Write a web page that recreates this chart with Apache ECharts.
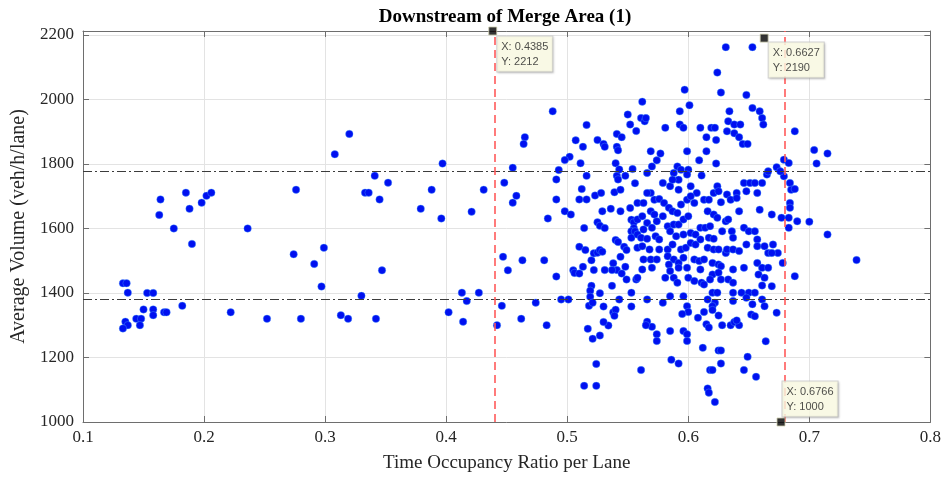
<!DOCTYPE html>
<html>
<head>
<meta charset="utf-8">
<script src="https://cdn.jsdelivr.net/npm/echarts@6/dist/echarts.min.js"></script>
<style>
  html, body { margin: 0; padding: 0; background: #fff; }
  #chart { width: 944px; height: 478px; }
</style>
</head>
<body>
<div id="chart"></div>
<script>
// Tick positions
const xTicks = [0.1, 0.2, 0.3, 0.4, 0.5, 0.6, 0.7, 0.8];
const yTicks = [1000, 1200, 1400, 1600, 1800, 2000, 2200];
const yMax = 2212;

// Volume band limits (dash-dot) and occupancy limits (red dashed)
const volumeBands = [1380, 1777];
const occupancyLimits = [0.4385, 0.6766];

// Data tips: [occupancy, volume]
const tips = [[0.4385, 2212], [0.6627, 2190], [0.6766, 1000]];

// Observations: [time occupancy ratio, average volume]
const lowOccupancy = [
  [0.133,1430],[0.136,1430],[0.137,1401],[0.153,1400],[0.158,1400],[0.150,1349],[0.158,1349],[0.158,1331],
  [0.144,1320],[0.148,1320],[0.135,1311],[0.137,1300],[0.133,1290],[0.147,1300],[0.167,1340],[0.169,1340],
  [0.182,1360],[0.222,1340],[0.252,1320],[0.280,1320],
  [0.164,1690],[0.163,1642],[0.185,1711],[0.188,1661],[0.175,1600],[0.190,1552],[0.198,1680],[0.202,1701],
  [0.206,1711],[0.236,1600],[0.276,1720],[0.274,1520],[0.291,1490],[0.297,1420],[0.299,1540],
  [0.320,1893],[0.308,1830],[0.341,1763],[0.333,1711],[0.336,1711],[0.352,1742],[0.345,1690],[0.397,1801],
  [0.388,1720],[0.379,1661],[0.396,1631],[0.421,1652],[0.431,1720],
  [0.347,1470],[0.330,1391],[0.313,1331],[0.319,1320],[0.342,1320],[0.413,1401],[0.427,1401],[0.402,1340],
  [0.417,1375],[0.414,1311],[0.442,1300]
];

const midOccupancy = [
  [0.455,1788],[0.448,1742],[0.458,1701],[0.455,1680],[0.447,1512],[0.451,1470],[0.446,1360],
  [0.465,1883],[0.464,1862],[0.488,1963],[0.516,1921],[0.507,1873],[0.513,1853],[0.525,1874],[0.530,1862],
  [0.531,1853],[0.541,1893],[0.545,1883],[0.541,1853],[0.542,1842],[0.550,1953],[0.552,1922],[0.557,1902],
  [0.562,1993],[0.561,1942],[0.564,1932],
  [0.502,1822],[0.498,1812],[0.511,1802],[0.493,1781],[0.491,1752],[0.491,1690],[0.484,1631],[0.498,1653],
  [0.503,1643],[0.516,1763],[0.512,1722],[0.510,1690],[0.516,1690],[0.523,1702],[0.528,1710],[0.529,1653],
  [0.536,1661],[0.540,1802],[0.541,1763],[0.542,1752],[0.543,1783],[0.539,1712],[0.544,1720],[0.544,1653],
  [0.548,1763],[0.554,1784],[0.556,1740],[0.552,1663],[0.525,1619],[0.527,1608],[0.514,1601],[0.531,1601],
  [0.553,1627],[0.555,1619],[0.555,1601],[0.553,1591],[0.556,1591],[0.553,1571],
  [0.510,1543],[0.515,1533],[0.520,1501],[0.522,1523],[0.525,1525],[0.527,1533],[0.529,1528],
  [0.540,1564],[0.542,1558],[0.547,1543],[0.549,1533],[0.544,1512],[0.538,1492],[0.541,1471],[0.548,1481],
  [0.545,1460],[0.549,1442],[0.557,1442],[0.537,1471],
  [0.505,1470],[0.506,1462],[0.510,1460],[0.513,1481],[0.522,1471],[0.531,1471],
  [0.491,1451],[0.463,1501],[0.481,1501],
  [0.520,1422],[0.519,1407],[0.519,1388],[0.518,1360],[0.521,1370],[0.527,1399],[0.537,1422],[0.543,1380],
  [0.553,1401],[0.495,1380],[0.501,1380],[0.474,1370],[0.462,1320],[0.483,1300],
  [0.530,1358],[0.538,1340],[0.540,1348],[0.539,1329],[0.534,1299],[0.530,1310],[0.527,1268],[0.521,1258],
  [0.517,1289],[0.553,1358],[0.524,1180],[0.514,1112],[0.524,1112]
];

const highVolume = [
  [0.631,2162],[0.653,2162],[0.624,2083],[0.597,2030],[0.627,2021],[0.648,2014],[0.601,1982],[0.593,1963],
  [0.634,1963],[0.653,1973],[0.659,1963],[0.661,1942],[0.662,1922],[0.593,1922],[0.596,1912],[0.581,1912],
  [0.610,1912],[0.619,1912],[0.622,1912],[0.633,1932],[0.638,1922],[0.643,1922],[0.632,1901],[0.638,1895],
  [0.642,1883],[0.615,1883],[0.623,1874],[0.645,1862],[0.649,1862],[0.688,1901],[0.704,1843],[0.715,1832],
  [0.706,1801],[0.565,1942],[0.679,1762],[0.700,1621],[0.715,1581],[0.739,1502]
];

const coreCluster = [
  [0.569,1839],[0.577,1832],[0.599,1839],[0.615,1839],[0.609,1811],[0.623,1801],[0.570,1792],[0.574,1811],
  [0.591,1792],[0.594,1782],[0.600,1782],[0.679,1813],[0.683,1803],[0.673,1790],
  [0.566,1772],[0.588,1772],[0.592,1751],[0.599,1767],[0.611,1764],[0.624,1731],[0.579,1741],[0.585,1731],
  [0.587,1751],[0.592,1720],[0.602,1731],[0.607,1710],[0.569,1710],[0.566,1710],[0.646,1741],[0.651,1741],
  [0.655,1741],[0.661,1741],[0.665,1767],[0.666,1777],[0.657,1710],[0.640,1710],[0.632,1705],[0.648,1715],
  [0.676,1777],[0.684,1741],[0.685,1720],[0.688,1722],
  [0.558,1679],[0.563,1679],[0.572,1689],[0.576,1691],[0.580,1679],[0.584,1664],[0.587,1653],[0.591,1648],
  [0.594,1674],[0.599,1689],[0.602,1700],[0.605,1679],[0.613,1689],[0.617,1689],[0.621,1710],[0.625,1715],
  [0.616,1653],[0.621,1643],[0.624,1633],[0.635,1689],[0.640,1694],[0.642,1653],[0.627,1681],[0.631,1622],
  [0.633,1628],[0.659,1658],[0.669,1643],[0.684,1679],[0.684,1664],[0.677,1633],[0.683,1633],[0.690,1622],
  [0.558,1628],[0.562,1638],[0.569,1653],[0.572,1643],[0.566,1617],[0.570,1602],[0.574,1622],[0.579,1638],
  [0.583,1607],[0.588,1612],[0.592,1612],[0.596,1628],[0.600,1638],[0.585,1591],[0.563,1597],[0.558,1581],
  [0.573,1576],[0.561,1571],[0.566,1568],[0.576,1566],[0.590,1576],[0.596,1581],[0.602,1586],[0.606,1581],
  [0.610,1602],[0.614,1602],[0.618,1607],[0.617,1571],[0.621,1568],[0.628,1591],[0.636,1591],[0.637,1571],
  [0.646,1602],[0.650,1591],[0.655,1591],[0.657,1566],[0.683,1602],
  [0.558,1540],[0.562,1545],[0.568,1535],[0.576,1535],[0.583,1535],[0.587,1550],[0.594,1535],[0.598,1540],
  [0.602,1555],[0.606,1550],[0.610,1566],[0.616,1540],[0.621,1535],[0.625,1535],[0.631,1524],[0.632,1535],
  [0.637,1535],[0.642,1530],[0.648,1550],[0.657,1545],[0.663,1545],[0.670,1550],[0.674,1524],[0.563,1504],
  [0.569,1504],[0.574,1504],[0.583,1514],[0.588,1504],[0.592,1493],[0.596,1509],[0.605,1504],[0.609,1499],
  [0.613,1504],[0.620,1493],[0.625,1488],[0.678,1493],[0.666,1524],[0.669,1524],
  [0.570,1478],[0.584,1488],[0.585,1468],[0.592,1478],[0.562,1473],[0.599,1478],[0.610,1473],[0.620,1457],
  [0.627,1483],[0.625,1463],[0.637,1473],[0.646,1478],[0.657,1493],[0.661,1478],[0.658,1457],[0.666,1478],
  [0.558,1447],[0.581,1447],[0.588,1447],[0.591,1432],[0.600,1447],[0.605,1437],[0.611,1432],[0.613,1426],
  [0.618,1442],[0.627,1442],[0.633,1442],[0.637,1432],[0.663,1447],[0.669,1421],[0.661,1423],[0.688,1452],
  [0.585,1390],[0.596,1390],[0.620,1401],[0.624,1401],[0.616,1380],[0.622,1370],[0.566,1380],[0.579,1370],
  [0.637,1401],[0.644,1401],[0.650,1401],[0.655,1401],[0.648,1385],[0.661,1380],[0.637,1375],[0.599,1359],
  [0.620,1359],[0.653,1365],[0.663,1359]
];

const lowVolume = [
  [0.600,1341],[0.595,1335],[0.613,1341],[0.620,1347],[0.652,1333],[0.655,1328],[0.673,1339],
  [0.566,1311],[0.570,1295],[0.574,1272],[0.574,1251],[0.585,1282],[0.596,1282],[0.599,1272],[0.599,1251],
  [0.608,1323],[0.615,1303],[0.617,1293],[0.625,1330],[0.628,1300],[0.635,1300],[0.638,1310],[0.642,1300],
  [0.640,1315],[0.612,1230],[0.625,1222],[0.627,1222],[0.664,1250],[0.565,1300],
  [0.586,1193],[0.592,1181],[0.561,1161],[0.627,1181],[0.618,1161],[0.620,1161],[0.646,1161],[0.649,1202],
  [0.656,1140],[0.616,1104],[0.617,1091],[0.622,1062]
];

const observations = [].concat(lowOccupancy, midOccupancy, highVolume, coreCluster, lowVolume);

const serif = '"Liberation Serif", "Times New Roman", serif';
const axisGrey = '#6e6e6e';
const gridGrey = '#e3e3e3';
const step = (arr) => arr[1] - arr[0];

const chart = echarts.init(document.getElementById('chart'), null, { renderer: 'canvas' });

const tipLabel = (pos) => ({
  show: true,
  position: pos,
  formatter: (p) => 'X: ' + p.value[0].toFixed(4) + '\nY: ' + p.value[1],
  fontFamily: '"Liberation Sans", Arial, sans-serif',
  fontSize: 11,
  lineHeight: 15,
  color: '#222',
  backgroundColor: '#ffffe6',
  borderColor: '#c8c8c8',
  borderWidth: 1,
  padding: [3, 4, 2, 4],
  shadowColor: 'rgba(0,0,0,0.15)',
  shadowBlur: 2,
  shadowOffsetX: 1,
  shadowOffsetY: 1
});

chart.setOption({
  animation: false,
  title: {
    text: 'Downstream of Merge Area (1)',
    left: 500,
    textAlign: 'center',
    top: 3,
    textStyle: { fontFamily: serif, fontSize: 19, fontWeight: 'bold', color: '#000' }
  },
  grid: { left: 83, right: 10, top: 31, bottom: 55, show: false },
  xAxis: [{
    type: 'value',
    min: xTicks[0], max: xTicks[xTicks.length - 1], interval: step(xTicks),
    name: 'Time Occupancy Ratio per Lane',
    nameLocation: 'middle', nameGap: 32,
    nameTextStyle: { fontFamily: serif, fontSize: 19, color: '#262626' },
    axisLine: { show: true, lineStyle: { color: axisGrey, width: 1 } },
    axisTick: { show: true, inside: true, length: 6, lineStyle: { color: axisGrey } },
    axisLabel: { fontFamily: serif, fontSize: 17, color: '#262626', margin: 7, formatter: (v) => v.toFixed(1) },
    splitLine: { show: true, lineStyle: { color: gridGrey, width: 1 } }
  }, {
    type: 'value', position: 'top',
    min: xTicks[0], max: xTicks[xTicks.length - 1], interval: step(xTicks),
    axisLine: { show: true, onZero: false, lineStyle: { color: axisGrey, width: 1 } },
    axisTick: { show: true, inside: true, length: 6, lineStyle: { color: axisGrey } },
    axisLabel: { show: false }, splitLine: { show: false }
  }],
  yAxis: [{
    type: 'value',
    min: yTicks[0], max: yMax, interval: step(yTicks),
    name: 'Average Volume (veh/h/lane)',
    nameLocation: 'middle', nameGap: 54, nameRotate: 90,
    nameTextStyle: { fontFamily: serif, fontSize: 20, color: '#262626' },
    axisLine: { show: true, lineStyle: { color: axisGrey, width: 1 } },
    axisTick: { show: true, inside: true, length: 6, lineStyle: { color: axisGrey } },
    axisLabel: {
      fontFamily: serif, fontSize: 17, color: '#262626', margin: 9,
      formatter: (v) => (yTicks.indexOf(v) >= 0 ? String(v) : '')
    },
    splitLine: { show: true, lineStyle: { color: gridGrey, width: 1 } }
  }, {
    type: 'value', position: 'right',
    min: yTicks[0], max: yMax, interval: step(yTicks),
    axisLine: { show: true, onZero: false, lineStyle: { color: axisGrey, width: 1 } },
    axisTick: { show: true, inside: true, length: 6, lineStyle: { color: axisGrey } },
    axisLabel: { show: false }, splitLine: { show: false }
  }],
  series: [{
    type: 'scatter',
    data: observations,
    symbol: 'circle',
    symbolSize: 7.5,
    itemStyle: { color: '#0010f0', borderColor: 'rgba(80,170,255,0.6)', borderWidth: 0.6, opacity: 1 },
    silent: true,
    z: 3,
    markLine: {
      silent: true,
      symbol: ['none', 'none'],
      label: { show: false },
      data: [
        ...volumeBands.map((v) => ({ yAxis: v, lineStyle: { color: '#3c3c3c', width: 1, type: [9, 3, 2, 3] } })),
        ...occupancyLimits.map((v) => ({ xAxis: v, lineStyle: { color: '#ff5a5a', width: 1.6, type: [8, 5] } }))
      ]
    }
  }, {
    type: 'scatter',
    data: tips.map((t, i) => ({
      value: t,
      label: tipLabel(i === 2 ? [6, -36] : (i === 0 ? [9, 10] : [9, 9]))
    })),
    symbol: 'rect',
    symbolSize: 8,
    itemStyle: { color: '#000', borderColor: '#cfcfb0', borderWidth: 1 },
    clip: false,
    silent: true,
    z: 10
  }]
});
</script>
</body>
</html>
